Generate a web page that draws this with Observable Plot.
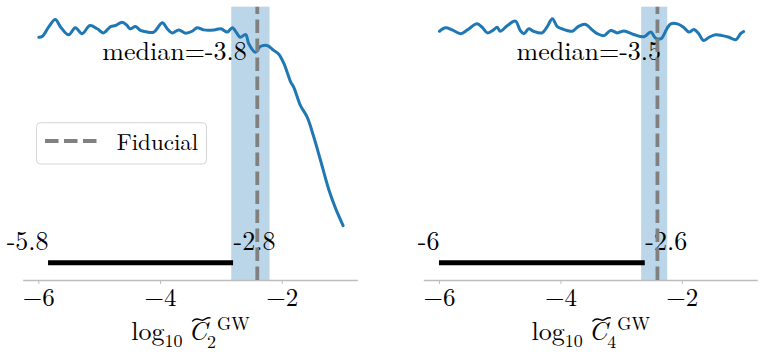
<!DOCTYPE html>
<html>
<head>
<meta charset="utf-8">
<script src="https://cdn.jsdelivr.net/npm/d3@7"></script>
<script src="https://cdn.jsdelivr.net/npm/@observablehq/plot@0.6"></script>
<style>
  html, body { margin: 0; padding: 0; background: #fff; }
  #wrap { display: flex; width: 764px; height: 356px; overflow: hidden; }
</style>
</head>
<body>
<div id="wrap"></div>
<script>
// ---- data ----
const leftX = [-6.00,-5.94,-5.84,-5.73,-5.64,-5.51,-5.40,-5.29,-5.16,-5.04,-4.94,-4.82,-4.74,-4.63,-4.55,-4.50,-4.41,-4.33,-4.22,-4.11,-3.97,-3.89,-3.81,-3.70,-3.59,-3.48,-3.40,-3.29,-3.12,-3.01,-2.90,-2.82,-2.74,-2.69,-2.60,-2.55,-2.44,-2.36,-2.25,-2.14,-2.06,-1.97,-1.86,-1.81,-1.70,-1.59,-1.48,-1.37,-1.23,-1.12,-1.00];
const leftY = [0.890,0.894,0.927,0.955,0.927,0.899,0.925,0.903,0.933,0.921,0.906,0.929,0.933,0.945,0.933,0.921,0.929,0.915,0.909,0.909,0.943,0.921,0.906,0.917,0.905,0.912,0.925,0.917,0.917,0.921,0.909,0.925,0.903,0.890,0.900,0.866,0.835,0.856,0.860,0.842,0.829,0.793,0.726,0.707,0.640,0.598,0.524,0.439,0.329,0.262,0.201];
const rightX = [-6.00,-5.90,-5.79,-5.65,-5.54,-5.38,-5.30,-5.21,-5.11,-5.05,-5.00,-4.88,-4.75,-4.67,-4.61,-4.53,-4.45,-4.31,-4.23,-4.14,-4.06,-3.98,-3.90,-3.81,-3.71,-3.59,-3.51,-3.40,-3.29,-3.18,-3.07,-2.96,-2.80,-2.63,-2.52,-2.44,-2.35,-2.25,-2.19,-2.08,-1.98,-1.89,-1.81,-1.73,-1.65,-1.56,-1.45,-1.34,-1.23,-1.12,-1.04,-0.99];
const rightY = [0.912,0.925,0.917,0.903,0.917,0.939,0.927,0.906,0.917,0.927,0.912,0.933,0.949,0.915,0.903,0.921,0.912,0.906,0.927,0.958,0.929,0.921,0.915,0.912,0.930,0.937,0.922,0.903,0.896,0.915,0.906,0.913,0.900,0.892,0.909,0.887,0.885,0.923,0.939,0.939,0.927,0.909,0.918,0.903,0.878,0.890,0.899,0.896,0.890,0.881,0.903,0.911];

const subscripts = ["2", "4"];
const fiducial = [-2.41, -2.41];
const bandLo = [-2.83, -2.67];
const bandHi = [-2.20, -2.24];
const medians = [-3.77, -3.54];
const boundLo = [-5.84, -6.00];
const boundHi = [-2.80, -2.61];
const xTicks = [-6, -4, -2];
const legendLabel = "Fiducial";

// ---- style ----
const FONT = "Latin Modern Roman";
const FS = 26;      // annotations
const FT = 25;      // tick labels
const FL = 23;      // legend
const BLUE = "#1f77b4";

function fmt2g(v) { return String(+v.toPrecision(2)); }
function tickFmt(d) { return (d < 0 ? "\u2212" : "") + Math.abs(d); }

function panel(i, xs, ys, marginLeft, marginRight) {
  const curve = xs.map((x, k) => ({x, y: ys[k]}));
  return Plot.plot({
    width: 382,
    height: 356,
    marginLeft, marginRight,
    marginTop: 6.7,
    marginBottom: 76,
    style: {fontFamily: FONT, fontSize: FS + "px", background: "white"},
    x: {domain: [-6.25, -0.75]},
    y: {domain: [0, 1], axis: null},
    marks: [
      Plot.rect([0], {x1: () => bandLo[i], x2: () => bandHi[i], y1: 0, y2: 1, fill: BLUE, fillOpacity: 0.3}),
      Plot.ruleY([0], {stroke: "#bdbdbd", strokeWidth: 1.3}),
      Plot.axisX({ticks: xTicks, tickFormat: tickFmt, tickSize: 4, tickPadding: 4, stroke: "#bdbdbd", fill: "black",
                  fontSize: FT, fontFamily: FONT, fontVariant: "normal", label: null}),
      Plot.line(curve, {x: "x", y: "y", stroke: BLUE, strokeWidth: 3, curve: "catmull-rom"}),
      Plot.ruleY([0.065], {x1: () => boundLo[i], x2: () => boundHi[i], stroke: "black", strokeWidth: 5}),
      Plot.text([0], {x: () => boundLo[i], y: 0.112, text: () => fmt2g(boundLo[i]), textAnchor: "end",
                      lineAnchor: "bottom", fontSize: FS, fontFamily: FONT, fill: "black"}),
      Plot.text([0], {x: () => boundHi[i], y: 0.112, text: () => fmt2g(boundHi[i]), textAnchor: "start",
                      lineAnchor: "bottom", fontSize: FS, fontFamily: FONT, fill: "black"}),
      Plot.text([0], {x: () => medians[i], y: 0.8075, text: () => "median=" + medians[i].toFixed(1),
                      textAnchor: "middle", lineAnchor: "bottom", fontSize: FS, fontFamily: FONT, fill: "black"}),
      Plot.ruleX([0], {x: () => fiducial[i], y1: 0, y2: 1, stroke: "gray", strokeWidth: 3.8, strokeDasharray: "13.5,5.5"})
    ]
  });
}

// axis label: log10 C~_n^GW (svg must already be in the DOM for measuring)
function addXLabel(svg, i, marginLeft, marginRight) {
  const cx = (marginLeft + 382 - marginRight) / 2;
  const t = d3.select(svg).append("text")
    .attr("x", cx).attr("y", 340)
    .attr("text-anchor", "middle")
    .attr("font-family", FONT).attr("font-size", FS).attr("fill", "black");
  t.append("tspan").text("log");
  t.append("tspan").attr("font-size", 18).attr("dy", 7).text("10");
  t.append("tspan").attr("dy", -7).attr("dx", 6).attr("font-style", "italic").text("C");
  t.append("tspan").attr("font-size", 18).attr("dy", 8).text(subscripts[i]);
  t.append("tspan").attr("font-size", 18).attr("dx", 1).attr("dy", -18).text("GW");
  try {
    const e = t.node().getExtentOfChar(5);
    const x0 = e.x + e.width * 0.22, x1 = e.x + e.width + 3;
    const w = x1 - x0, yc = 319.5;
    d3.select(svg).append("path")
      .attr("d", `M${x0},${yc + 1.6} C${x0 + w * 0.25},${yc - 3.2} ${x0 + w * 0.45},${yc + 1.5} ${x0 + w * 0.6},${yc + 0.6}`
               + ` S${x0 + w * 0.85},${yc - 2.6} ${x1},${yc - 1.6}`)
      .attr("fill", "none").attr("stroke", "black").attr("stroke-width", 1.4).attr("stroke-linecap", "round");
  } catch (err) {}
}

const wrap = document.getElementById("wrap");
const left = panel(0, leftX, leftY, 23.1, 24.2);
const right = panel(1, rightX, rightY, 41.8, 6.3);
wrap.appendChild(left);
wrap.appendChild(right);
addXLabel(left, 0, 23.1, 24.2);
addXLabel(right, 1, 41.8, 6.3);

// legend inside left panel
const lg = d3.select(left).append("g");
lg.append("rect").attr("x", 36.5).attr("y", 122.7).attr("width", 170).attr("height", 41.3)
  .attr("rx", 4).attr("fill", "white").attr("fill-opacity", 0.8)
  .attr("stroke", "#d6d6d6").attr("stroke-width", 1);
lg.append("line").attr("x1", 45).attr("x2", 97).attr("y1", 141).attr("y2", 141)
  .attr("stroke", "gray").attr("stroke-width", 3.8).attr("stroke-dasharray", "13.5,5.5");
lg.append("text").attr("x", 116.7).attr("y", 150).attr("text-anchor", "start")
  .attr("font-family", FONT).attr("font-size", FL)
  .attr("fill", "black").text(legendLabel);
</script>
</body>
</html>
